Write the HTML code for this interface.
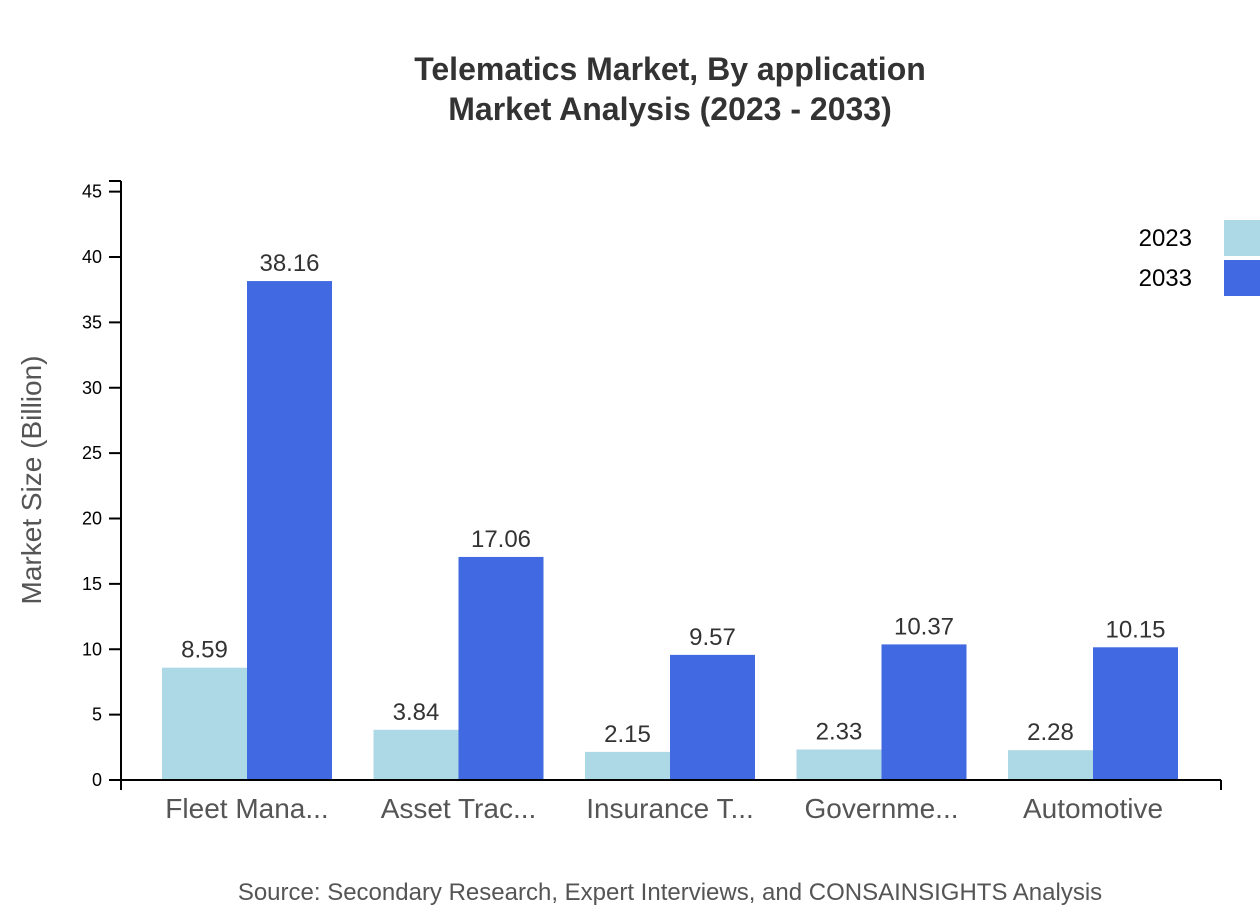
<!DOCTYPE html>
<html><head><meta charset="utf-8"><style>
body{margin:0;background:#fff;}
svg{display:block;font-family:"Liberation Sans",sans-serif;}
</style></head><body>
<svg width="1260" height="920">
<text x="670" y="80" text-anchor="middle" font-size="32" font-weight="bold" fill="#333">Telematics Market, By application</text>
<text x="670" y="120" text-anchor="middle" font-size="32" font-weight="bold" fill="#333">Market Analysis (2023 - 2033)</text>
<text transform="translate(41,480) rotate(-90)" text-anchor="middle" font-size="28" fill="#555">Market Size (Billion)</text>
<g id="yaxis"></g>
<g id="bars"></g>
<g id="xaxis"></g>
<g>
<text x="1192" y="246" text-anchor="end" font-size="24" fill="#000">2023</text>
<rect x="1224" y="220" width="40" height="36" fill="#add8e6"/>
<text x="1192" y="286" text-anchor="end" font-size="24" fill="#000">2033</text>
<rect x="1224" y="260" width="40" height="36" fill="#4169e1"/>
</g>
<text x="670" y="900" text-anchor="middle" font-size="24" fill="#555">Source: Secondary Research, Expert Interviews, and CONSAINSIGHTS Analysis</text>
</svg>
<script>
const categories = ["Fleet Mana...","Asset Trac...","Insurance T...","Governme...","Automotive"];
const values2023 = [8.59,3.84,2.15,2.33,2.28];
const values2033 = [38.16,17.06,9.57,10.37,10.15];
const yTicks = [0,5,10,15,20,25,30,35,40,45];
const NS="http://www.w3.org/2000/svg";
const y = v => 780 - v*13.075;
const xc = i => 247 + i*211.5;
const BW = 85;
function mk(tag, attrs, parent, text){const e=document.createElementNS(NS,tag);for(const k in attrs)e.setAttribute(k,attrs[k]);if(text!==undefined)e.textContent=text;parent.appendChild(e);return e;}
const ya=document.getElementById('yaxis');
mk('line',{x1:121,x2:121,y1:181,y2:780,stroke:'#000','stroke-width':2},ya);
yTicks.forEach(t=>{
  mk('line',{x1:109,x2:121,y1:y(t),y2:y(t),stroke:'#000','stroke-width':2},ya);
  const tx=mk('text',{x:102,y:y(t)+6,'text-anchor':'end','font-size':18,fill:'#000'},ya,String(t));
  
  
});
mk('line',{x1:109,x2:121,y1:181,y2:181,stroke:'#000','stroke-width':2},ya);
const xa=document.getElementById('xaxis');
mk('line',{x1:121,x2:1221,y1:780,y2:780,stroke:'#000','stroke-width':2},xa);
mk('line',{x1:121,x2:121,y1:780,y2:790,stroke:'#000','stroke-width':2},xa);
mk('line',{x1:1221,x2:1221,y1:780,y2:790,stroke:'#000','stroke-width':2},xa);
const bg=document.getElementById('bars');
categories.forEach((c,i)=>{
  const cx=xc(i);
  const l=mk('text',{x:cx,y:818,'text-anchor':'middle','font-size':28,fill:'#555'},xa,c);
  
  
  [[values2023[i],'#add8e6',cx-BW],[values2033[i],'#4169e1',cx]].forEach(([v,col,x0],k)=>{
    const r=mk('rect',{x:x0,y:y(v),width:BW,height:780-y(v),fill:col},bg);
    
    
    const t=mk('text',{x:x0+BW/2,y:y(v)-10,'text-anchor':'middle','font-size':24,fill:'#333'},bg,v.toFixed(2));
    
    
  });
});
</script>
</body></html>
